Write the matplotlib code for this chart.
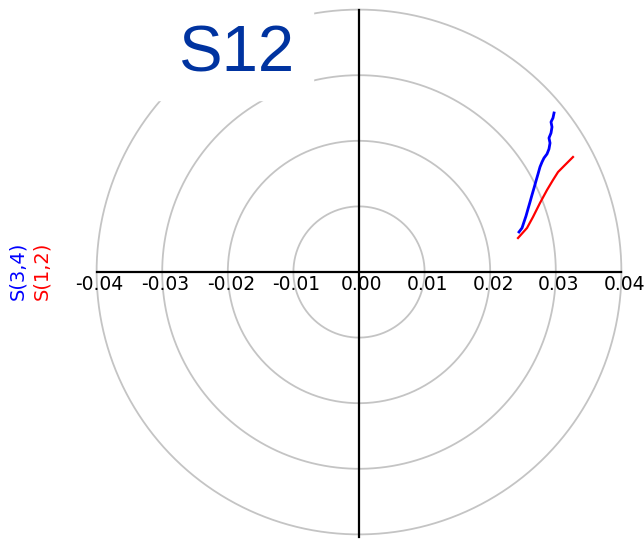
import matplotlib
matplotlib.use("Agg")
import matplotlib.pyplot as plt
import numpy as np

# Werte (x = Realteil, y = Imaginärteil)
s34_re = [0.02439, 0.02485, 0.02515, 0.02546, 0.02576, 0.02607, 0.02637, 0.02668,
          0.02698, 0.02729, 0.02759, 0.02790, 0.02820, 0.02866, 0.02896, 0.02912,
          0.02896, 0.02927, 0.02942, 0.02927, 0.02957, 0.02973]
s34_im = [0.00610, 0.00671, 0.00762, 0.00854, 0.00960, 0.01067, 0.01174, 0.01280,
          0.01387, 0.01494, 0.01601, 0.01677, 0.01738, 0.01799, 0.01875, 0.01966,
          0.02043, 0.02119, 0.02210, 0.02287, 0.02348, 0.02424]
s12_re = [0.02424, 0.02561, 0.02652, 0.02759, 0.02866, 0.02957, 0.03034, 0.03140,
          0.03262]
s12_im = [0.00518, 0.00671, 0.00838, 0.01052, 0.01250, 0.01402, 0.01524, 0.01631,
          0.01753]

ring_radii = [0.01, 0.02, 0.03, 0.04]
tick_vals = [-0.04, -0.03, -0.02, -0.01, 0.00, 0.01, 0.02, 0.03, 0.04]
r_max = 0.04

# Pixelmaßstab: Mittelpunkt bei (359, 272) px, 6560 px pro Einheit
px_per_unit = 6560.0
cx, cy = 359.0, 272.0
W, H = 644, 540

fig = plt.figure(figsize=(W / 100, H / 100), dpi=100)
ax = fig.add_axes([0, 0, 1, 1])
ax.set_xlim(-cx / px_per_unit, (W - cx) / px_per_unit)
ax.set_ylim(-(H - cy) / px_per_unit, cy / px_per_unit)
ax.axis("off")

# Kreise
t = np.linspace(0, 2 * np.pi, 400)
for r in ring_radii:
    ax.plot(r * np.cos(t), r * np.sin(t), color="#c4c4c4", lw=1.3, zorder=1)

# Achsen
ax.plot([-r_max, r_max], [0, 0], color="black", lw=1.6, zorder=3)
ax.plot([0, 0], [-r_max - 0.0004, r_max], color="black", lw=1.6, zorder=3)

for v in tick_vals:
    ax.text(v + 3 / px_per_unit, -0.0005, f"{v:.2f}", ha="center", va="top",
            fontsize=13.5, family="DejaVu Sans", color="black", zorder=2)

# Kurven
ax.plot(s34_re, s34_im, color="#0000ff", lw=2.0, zorder=4)
ax.plot(s12_re, s12_im, color="#ff0000", lw=1.6, zorder=4)

# Titel mit weißem Hintergrund
fig.patches.append(plt.Rectangle((150 / W, 1 - 100 / H), 163 / W, 100 / H,
                                 transform=fig.transFigure, color="white", zorder=5))
fig.text(237 / W, 1 - 55 / H, "S12", ha="center", va="center", fontsize=47,
         family="Liberation Sans", color="#0033a0", zorder=6)

# Legende senkrecht
fig.text(18 / W, 1 - 271 / H, "S(3,4)", rotation=90, ha="center", va="center",
         fontsize=14, color="#0000ff", family="DejaVu Sans")
fig.text(42 / W, 1 - 271 / H, "S(1,2)", rotation=90, ha="center", va="center",
         fontsize=14, color="#ff0000", family="DejaVu Sans")

fig.savefig("out.png", dpi=100)
